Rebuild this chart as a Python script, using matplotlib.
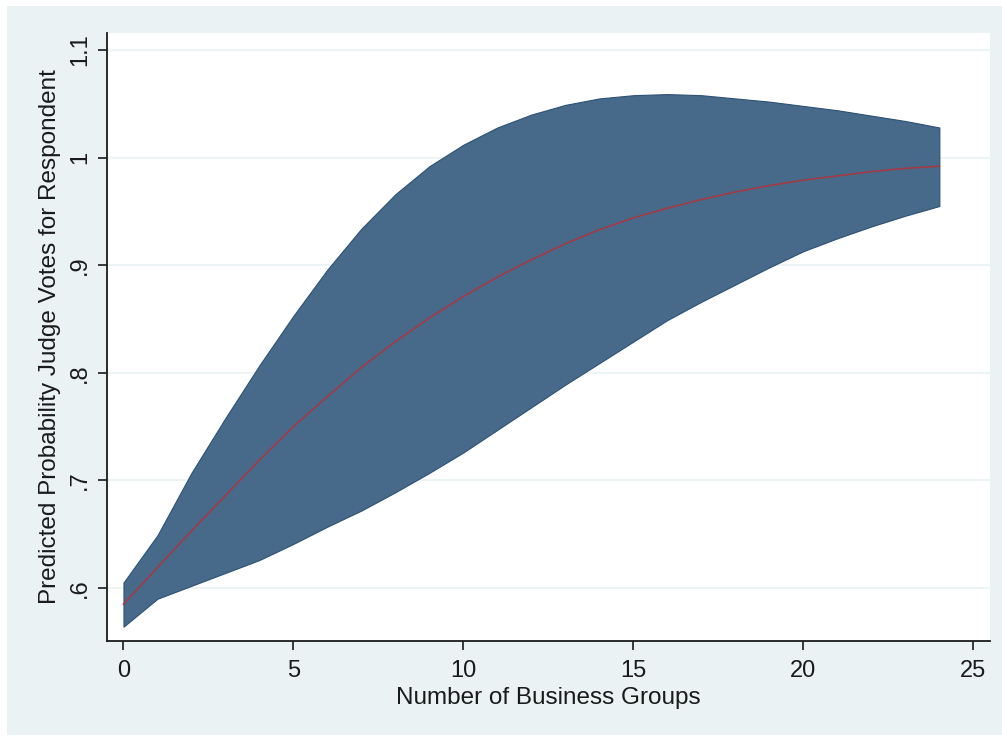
import matplotlib
matplotlib.use("Agg")
import matplotlib.pyplot as plt
from matplotlib.patches import Rectangle

# Number of business groups supporting the respondent
groups = list(range(0, 25))

# Predicted probability and 95% confidence bounds
pred = [0.585, 0.619, 0.653, 0.686, 0.719, 0.750, 0.778, 0.805, 0.829, 0.851,
        0.871, 0.889, 0.905, 0.920, 0.933, 0.944, 0.953, 0.961, 0.968, 0.974,
        0.979, 0.983, 0.987, 0.990, 0.992]
upper = [0.605, 0.649, 0.707, 0.758, 0.807, 0.853, 0.896, 0.934, 0.966, 0.992,
         1.012, 1.028, 1.040, 1.049, 1.055, 1.058, 1.059, 1.058, 1.055, 1.052,
         1.048, 1.044, 1.039, 1.034, 1.028]
lower = [0.564, 0.590, 0.602, 0.614, 0.626, 0.641, 0.657, 0.672, 0.689, 0.707,
         0.726, 0.747, 0.768, 0.789, 0.809, 0.829, 0.849, 0.866, 0.882, 0.898,
         0.913, 0.925, 0.936, 0.946, 0.955]

xticks = [0, 5, 10, 15, 20, 25]
yticks = [0.6, 0.7, 0.8, 0.9, 1.0, 1.1]
ytick_labels = [".6", ".7", ".8", ".9", "1", "1.1"]

BG = "#EAF2F3"
BAND = "#476A8A"
BAND_EDGE = "#2C5075"
LINE = "#A33A43"

plt.rcParams["font.family"] = ["Liberation Sans", "DejaVu Sans"]

fig = plt.figure(figsize=(10.03, 7.36), dpi=100, facecolor="white")
W, H = 1003, 736
fig.patches.append(Rectangle((7 / W, 1 / H), 995 / W, 729 / H,
                             transform=fig.transFigure, facecolor=BG,
                             edgecolor="none", zorder=-10))

ax = fig.add_axes([107 / W, 1 - 641 / H, 883 / W, 608 / H])
ax.set_facecolor("white")

ax.fill_between(groups, lower, upper, facecolor=BAND, edgecolor=BAND_EDGE,
                linewidth=0.8, zorder=2)
ax.plot(groups, pred, color=LINE, linewidth=1.2, zorder=3)

ax.set_xlim(-0.485, 25.49)
ax.set_ylim(0.5507, 1.1158)

ax.set_xticks(xticks)
ax.set_xticklabels([str(t) for t in xticks])
ax.set_yticks(yticks)
ax.set_yticklabels(ytick_labels, rotation=90, va="center")

ax.grid(axis="y", color=BG, linewidth=1.2, zorder=0)
ax.set_axisbelow(True)

for side in ("top", "right"):
    ax.spines[side].set_visible(False)
for side in ("left", "bottom"):
    ax.spines[side].set_color("#1a1a1a")
    ax.spines[side].set_linewidth(1.3)

ax.tick_params(axis="both", direction="out", length=6.5, width=1.2,
               color="#1a1a1a", labelsize=17, labelcolor="#1a1a1a")
ax.tick_params(axis="x", pad=7)
ax.tick_params(axis="y", pad=5)

ax.set_xlabel("Number of Business Groups", fontsize=17.5, color="#1a1a1a",
              labelpad=4)
ax.set_ylabel("Predicted Probability Judge Votes for Respondent",
              fontsize=17.5, color="#1a1a1a", labelpad=6)

fig.savefig("out.png", dpi=100, facecolor="white")
